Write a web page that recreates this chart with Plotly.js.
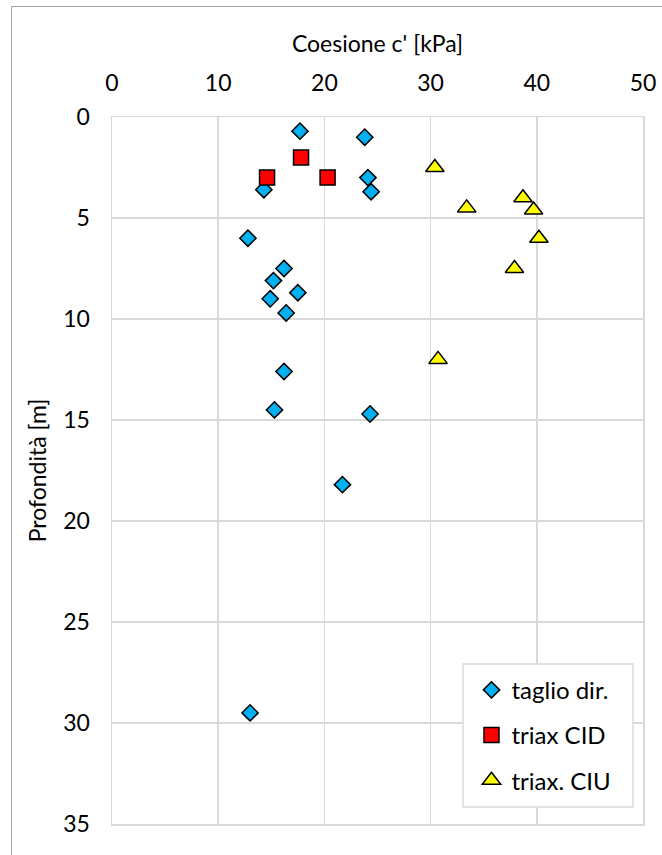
<!DOCTYPE html>
<html>
<head>
<meta charset="utf-8">
<script src="https://cdn.plot.ly/plotly-3.0.1.min.js"></script>
<style>
html,body{margin:0;padding:0;background:#fff;overflow:hidden;}
#frame{position:absolute;left:11px;top:6px;width:700px;height:900px;border:1.5px solid #a6a6a6;box-sizing:border-box;}
#chart{position:absolute;left:0;top:0;width:662px;height:855px;}
</style>
</head>
<body>
<div id="frame"></div>
<div id="chart"></div>
<script>
// taglio dir. (direct shear)
const taglioX = [17.7, 23.8, 14.3, 24.1, 24.4, 12.8, 16.2, 15.2, 17.5, 14.9, 16.4, 16.2, 15.3, 24.3, 21.7, 13.0];
const taglioY = [0.7, 1.0, 3.6, 3.0, 3.7, 6.0, 7.5, 8.1, 8.7, 9.0, 9.7, 12.6, 14.5, 14.7, 18.2, 29.5];
// triax CID
const cidX = [17.8, 14.6, 20.3];
const cidY = [2.0, 3.0, 3.0];
// triax. CIU
const ciuX = [30.4, 33.4, 38.7, 39.7, 40.2, 37.9, 30.7];
const ciuY = [2.5, 4.5, 4.0, 4.6, 6.0, 7.5, 12.0];

const seriesNames = ["taglio dir.", "triax CID", "triax. CIU"];
const xTicks = [0, 10, 20, 30, 40, 50];
const yTicks = [0, 5, 10, 15, 20, 25, 30, 35];

const FONT = "Lato, 'Open Sans', sans-serif";

const traces = [
  {x: taglioX, y: taglioY, name: seriesNames[0], type: "scatter", mode: "markers", legendgroup: "a",
   marker: {symbol: "diamond", size: 12.5, color: "#00B0F0", line: {color: "#000", width: 1.5}}},
  {x: cidX, y: cidY, name: seriesNames[1], type: "scatter", mode: "markers", legendgroup: "b",
   marker: {symbol: "square", size: 15, color: "#FF0000", line: {color: "#000", width: 1.5}}},
  {x: ciuX, y: ciuY, name: seriesNames[2], type: "scatter", mode: "markers", legendgroup: "c",
   marker: {symbol: "triangle-up", size: 16, color: "#FFFF00", line: {color: "#000", width: 1.5}}}
];

const layout = {
  width: 662, height: 855,
  margin: {l: 112, r: 19, t: 117, b: 31, autoexpand: false},
  paper_bgcolor: "rgba(0,0,0,0)",
  plot_bgcolor: "#fff",
  font: {family: FONT, size: 23, color: "#000"},
  showlegend: true,
  legend: {
    x: 0.677, y: 0.221, xanchor: "left", yanchor: "top",
    bgcolor: "rgba(0,0,0,0)", borderwidth: 0,
    font: {family: FONT, size: 24, color: "#000"},
    traceorder: "grouped", tracegroupgap: 11,
    itemwidth: 30
  },
  shapes: [
    {type: "rect", xref: "paper", yref: "paper", x0: 0.661, x1: 0.981, y0: 0.024, y1: 0.2263,
     fillcolor: "#fff", line: {color: "#d9d9d9", width: 1.5}, layer: "above"}
  ],
  xaxis: {
    side: "top", range: [0, 50], tickvals: xTicks, ticktext: xTicks.map(String),
    showgrid: true, gridcolor: "#d9d9d9", gridwidth: 1.5,
    showline: true, linecolor: "#d9d9d9", linewidth: 1.5, mirror: true,
    zeroline: false, ticks: "", ticklabelstandoff: 15, automargin: false,
    title: {text: "Coesione c' [kPa]", font: {family: FONT, size: 23}, standoff: 9}
  },
  yaxis: {
    range: [35, 0], tickvals: yTicks, ticktext: yTicks.map(String),
    showgrid: true, gridcolor: "#d9d9d9", gridwidth: 1.5,
    showline: true, linecolor: "#d9d9d9", linewidth: 1.5, mirror: true,
    zeroline: false, ticks: "", ticklabelstandoff: 16, automargin: false,
    title: {text: "Profondità [m]", font: {family: FONT, size: 23}, standoff: 10}
  }
};

Plotly.newPlot("chart", traces, layout, {displayModeBar: false, staticPlot: true});
</script>
</body>
</html>
